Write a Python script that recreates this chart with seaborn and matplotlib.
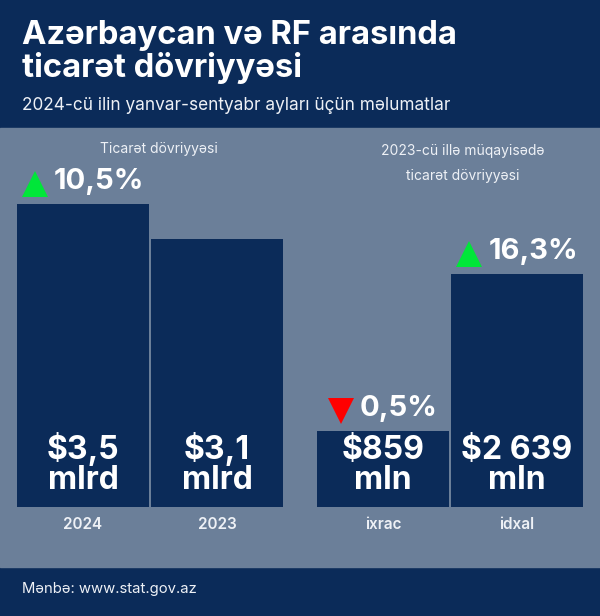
import matplotlib
matplotlib.use("Agg")
import matplotlib.pyplot as plt
import seaborn as sns
from matplotlib.patches import Rectangle
from matplotlib.transforms import offset_copy

# Data from the image
years = ["2024", "2023"]
turnover = [3.5, 3.1]                  # mlrd $
turnover_labels = ["$3,5\nmlrd", "$3,1\nmlrd"]

flows = ["ixrac", "idxal"]
flow_values = [859, 2639]              # mln $
flow_labels = ["$859\nmln", "$2 639\nmln"]

# change vs 2023 (shown above bars): (bar index, text, up?)
turnover_change = [(0, "10,5%", True)]
flow_change = [(0, "0,5%", False), (1, "16,3%", True)]

NAVY = "#0b2b59"
BODY = "#6b7f99"
GREEN = "#00e639"
RED = "#ff0000"
LIGHT = "#eef1f6"

sns.set_style("white")
plt.rcParams["font.family"] = ["Inter", "DejaVu Sans"]

W, H = 600, 616
fig = plt.figure(figsize=(W / 100, H / 100), dpi=100, facecolor=NAVY)

# body band
fig.patches.append(Rectangle((0, (H - 567) / H), 1, (567 - 128) / H,
                             transform=fig.transFigure, color=BODY, zorder=-5))

fig.text(22 / W, 1 - 20 / H, "Azərbaycan və RF arasında\nticarət dövriyyəsi",
         color="white", fontsize=23.6, fontweight="bold", va="top", ha="left",
         linespacing=1.05)
fig.text(22 / W, 1 - 105 / H, "2024-cü ilin yanvar-sentyabr ayları üçün məlumatlar",
         color=LIGHT, fontsize=12.4, va="center", ha="left")
fig.text(22 / W, 1 - 589 / H, "Mənbə: www.stat.gov.az",
         color=LIGHT, fontsize=10.7, va="center", ha="left")

fig.text(159 / W, 1 - 149 / H, "Ticarət dövriyyəsi", color=LIGHT, fontsize=10,
         ha="center", va="center")
fig.text(463 / W, 1 - 164 / H, "2023-cü illə müqayisədə\nticarət dövriyyəsi",
         color=LIGHT, fontsize=10, ha="center", va="center", linespacing=2.0)


def panel(rect, cats, vals, labels, changes, ymax):
    ax = fig.add_axes(rect)
    ax.set_facecolor("none")
    sns.barplot(x=cats, y=vals, ax=ax, color=NAVY, saturation=1, width=0.987,
                linewidth=0)
    ax.set_xlim(-0.5, 1.5)
    ax.set_ylim(0, ymax)
    sns.despine(ax=ax, left=True, bottom=True)
    ax.set_yticks([])
    ax.tick_params(axis="x", length=0, pad=7, labelsize=11, labelcolor=LIGHT)
    for t in ax.get_xticklabels():
        t.set_fontweight("semibold")
    ax.set_xlabel("")
    for i, lab in enumerate(labels):
        ax.annotate(lab, (i, 0), xytext=(0, 11), textcoords="offset pixels",
                    ha="center", va="bottom", color="white", fontsize=23,
                    fontweight="bold", linespacing=0.95)
    for i, txt, up in changes:
        v = vals[i]
        t = ax.annotate(txt, (i, v), xytext=(0, 9), textcoords="offset pixels",
                        ha="left", va="bottom", color="white", fontsize=21,
                        fontweight="bold")
        fig.canvas.draw()
        tw = t.get_window_extent().width
        total = 26 + 6 + tw
        start = -total / 2
        t.set_position((start + 32, 9))
        tr = offset_copy(ax.transData, fig=fig, x=start + 13, y=20, units="dots")
        ax.plot([i], [v], marker="^" if up else "v", ms=19, mew=0,
                color=GREEN if up else RED, transform=tr, clip_on=False)
    return ax


bot = (H - 507) / H
hgt = (507 - 130) / H
panel([16 / W, bot, 268 / W, hgt], years, turnover, turnover_labels,
      turnover_change, 377 / 86.6)
panel([316 / W, bot, 268 / W, hgt], flows, flow_values, flow_labels,
      flow_change, 377 / 0.0884)

fig.savefig("out.png", dpi=100, facecolor=NAVY)
